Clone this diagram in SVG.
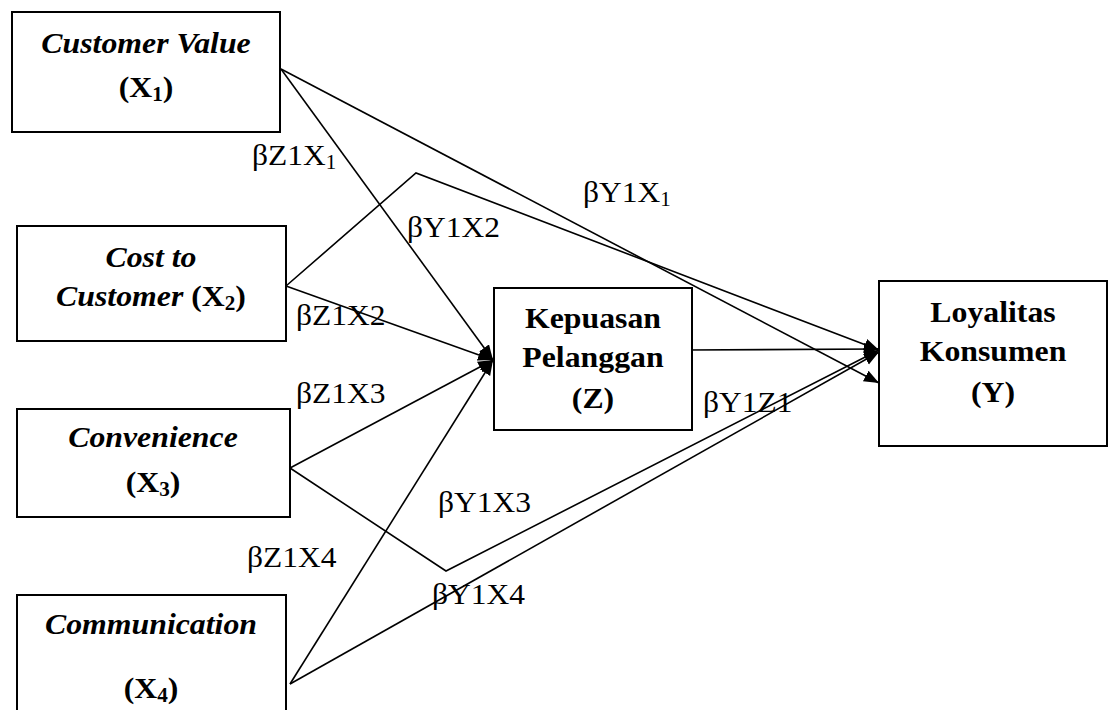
<svg xmlns="http://www.w3.org/2000/svg" width="1110" height="710" viewBox="0 0 1110 710">
<defs>
<marker id="ah" markerUnits="userSpaceOnUse" markerWidth="16" markerHeight="14" refX="15" refY="6" orient="auto">
<path d="M0,0 L15,6 L0,12 Z" fill="#000"/>
</marker>
<style>
.box{fill:#fff;stroke:#000;stroke-width:2}
.ln{fill:none;stroke:#000;stroke-width:1.6}
text{font-family:"Liberation Serif","Times New Roman",serif;font-size:30px;fill:#000}
.bi{font-weight:bold;font-style:italic}
.b{font-weight:bold}
.sub{font-size:20px}
</style>
</defs>
<rect width="1110" height="710" fill="#fff"/>
<g id="connectors">
<path class="ln" d="M281,69 L493,360" marker-end="url(#ah)"/>
<path class="ln" d="M281,69 L879,383" marker-end="url(#ah)"/>
<path class="ln" d="M286,286 L416,173 L879,350" marker-end="url(#ah)"/>
<path class="ln" d="M286,286 L493,360" marker-end="url(#ah)"/>
<path class="ln" d="M290,468 L493,360" marker-end="url(#ah)"/>
<path class="ln" d="M290,468 L446,571 L879,350" marker-end="url(#ah)"/>
<path class="ln" d="M290,684 L493,360" marker-end="url(#ah)"/>
<path class="ln" d="M290,684 L879,352" marker-end="url(#ah)"/>
<path class="ln" d="M687,350 L879,349" marker-end="url(#ah)"/>
</g>
<g id="labels">
<g transform="translate(252,0) scale(1.05,1)"><text x="0" y="165">βZ1X<tspan class="sub" dy="4">1</tspan></text></g>
<g transform="translate(583,0) scale(1.05,1)"><text x="0" y="202">βY1X<tspan class="sub" dy="4">1</tspan></text></g>
<g transform="translate(407,0) scale(1.05,1)"><text x="0" y="237">βY1X2</text></g>
<g transform="translate(296,0) scale(1.05,1)"><text x="0" y="325">βZ1X2</text></g>
<g transform="translate(296,0) scale(1.05,1)"><text x="0" y="403">βZ1X3</text></g>
<g transform="translate(703,0) scale(1.05,1)"><text x="0" y="412">βY1Z1</text></g>
<g transform="translate(438,0) scale(1.05,1)"><text x="0" y="512">βY1X3</text></g>
<g transform="translate(247,0) scale(1.05,1)"><text x="0" y="567">βZ1X4</text></g>
<g transform="translate(432,0) scale(1.05,1)"><text x="0" y="604">βY1X4</text></g>
</g>
<g id="node-x1">
<rect class="box" x="12" y="12" width="268" height="120"/>
<g transform="translate(146,0) scale(1.06,1)" text-anchor="middle">
<text x="0" y="53" class="bi">Customer Value</text>
<text x="0" y="97" class="b">(X<tspan class="sub" dy="4">1</tspan><tspan dy="-4">)</tspan></text>
</g>
</g>
<g id="node-x2">
<rect class="box" x="17" y="226" width="269" height="115"/>
<g transform="translate(151,0) scale(1.06,1)" text-anchor="middle">
<text x="0" y="267" class="bi">Cost to</text>
<text x="0" y="306"><tspan class="bi">Customer </tspan><tspan class="b">(X</tspan><tspan class="sub b" dy="4">2</tspan><tspan class="b" dy="-4">)</tspan></text>
</g>
</g>
<g id="node-x3">
<rect class="box" x="17" y="409" width="273" height="108"/>
<g transform="translate(153,0) scale(1.06,1)" text-anchor="middle">
<text x="0" y="447" class="bi">Convenience</text>
<text x="0" y="492" class="b">(X<tspan class="sub" dy="4">3</tspan><tspan dy="-4">)</tspan></text>
</g>
</g>
<g id="node-x4">
<rect class="box" x="17" y="595" width="269" height="130"/>
<g transform="translate(151,0) scale(1.06,1)" text-anchor="middle">
<text x="0" y="634" class="bi">Communication</text>
<text x="0" y="698" class="b">(X<tspan class="sub" dy="4">4</tspan><tspan dy="-4">)</tspan></text>
</g>
</g>
<g id="node-z">
<rect class="box" x="494" y="288" width="198" height="142"/>
<g transform="translate(593,0) scale(1.06,1)" text-anchor="middle">
<text x="0" y="328" class="b">Kepuasan</text>
<text x="0" y="367" class="b">Pelanggan</text>
<text x="0" y="408" class="b">(Z)</text>
</g>
</g>
<g id="node-y">
<rect class="box" x="879" y="281" width="228" height="165"/>
<g transform="translate(993,0) scale(1.06,1)" text-anchor="middle">
<text x="0" y="322" class="b">Loyalitas</text>
<text x="0" y="361" class="b">Konsumen</text>
<text x="0" y="402" class="b">(Y)</text>
</g>
</g>
</svg>
